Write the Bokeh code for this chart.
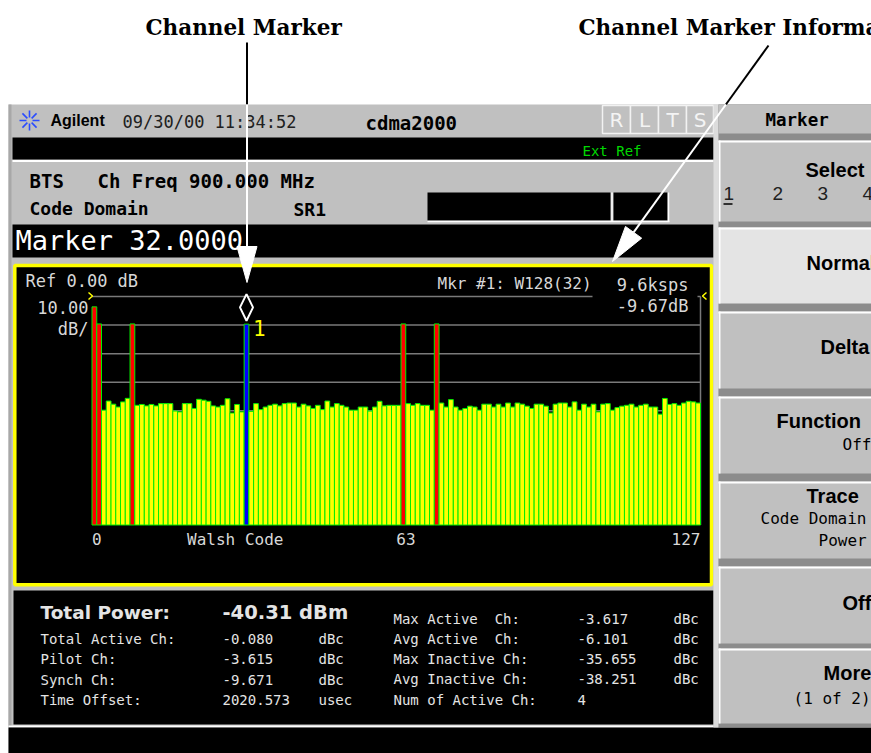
import math
from bokeh.plotting import figure
from bokeh.models import Range1d, ColumnDataSource
from bokeh.core.properties import value
from bokeh.embed import file_html
from bokeh.resources import INLINE

# ---------------- data ----------------
walsh_codes = list(range(128))
code_power_db = [
    -3.62, -9.6, -39.8, -36.6, -37.7, -38.7, -36.9, -35.66, -9.6, -38.1,
    -37.8, -38.3, -37.8, -38.3, -37.5, -37.5, -37.5, -40.1, -40.4, -37.5,
    -37.5, -39.2, -36.0, -36.3, -36.7, -38.3, -38.7, -38.1, -35.8, -40.8,
    -37.8, -40.4, -9.67, -40.2, -37.5, -39.6, -38.7, -38.1, -37.7, -38.3,
    -37.5, -37.3, -37.3, -38.7, -37.7, -38.3, -39.2, -38.1, -39.6, -36.6,
    -38.7, -37.5, -38.1, -38.7, -39.8, -39.8, -38.7, -38.7, -40.1, -38.7,
    -36.7, -38.3, -38.1, -38.1, -38.1, -9.6, -37.5, -38.1, -37.5, -38.1,
    -38.1, -39.8, -9.6, -37.3, -38.7, -36.1, -38.7, -39.8, -39.2, -38.4,
    -38.7, -39.8, -37.7, -37.7, -38.7, -37.7, -38.7, -37.3, -38.7, -37.3,
    -37.7, -38.4, -39.2, -37.7, -37.7, -38.4, -40.8, -37.7, -37.3, -37.3,
    -38.7, -36.9, -39.8, -37.7, -38.7, -37.7, -40.4, -37.7, -37.5, -39.8,
    -38.9, -38.4, -38.1, -37.7, -38.7, -38.1, -37.7, -38.7, -38.7, -41.2,
    -35.7, -37.8, -37.5, -38.1, -37.3, -36.7, -36.9, -37.3,
]
active_codes = [0, 1, 8, 65, 72]
marker_code = 32
marker_db = -9.67
marker_rate = "9.6ksps"
marker_label = "Mkr #1: W128(32)"
ref_level_db = 0.0
db_per_div = 10.0
n_divs = 8
x_tick_labels = ["0", "63", "127"]
x_axis_title = "Walsh Code"

total_power_text = "-40.31 dBm"
left_labels = ["Total Active Ch:", "Pilot Ch:", "Synch Ch:", "Time Offset:"]
left_values = ["-0.080", "-3.615", "-9.671", "2020.573"]
left_units = ["dBc", "dBc", "dBc", "usec"]
right_labels = ["Max Active\u00a0\u00a0Ch:", "Avg Active\u00a0\u00a0Ch:", "Max Inactive Ch:",
                "Avg Inactive Ch:", "Num of Active Ch:"]
right_values = ["-3.617", "-6.101", "-35.655", "-38.251", "4"]
right_units = ["dBc", "dBc", "dBc", "dBc", ""]

# ---------------- styles ----------------
GRAY = "#c0c0c0"
MONO = "DejaVu Sans Mono"
SANS = "DejaVu Sans"
KEYF = "Liberation Sans"
LIGHT = "#e4e4e4"

p = figure(width=871, height=753, x_range=Range1d(0, 871), y_range=Range1d(753, 0),
           output_backend="svg", toolbar_location=None, min_border=0,
           x_axis_location=None, y_axis_location=None,
           background_fill_color="white", border_fill_color="white",
           outline_line_color=None)
p.grid.visible = False


def box(l, r, t, b, color, line=None, lw=1):
    p.quad(left=[l], right=[r], top=[t], bottom=[b], fill_color=color,
           line_color=line, line_width=lw)


def seg(x0, y0, x1, y1, color, lw=1):
    p.segment(x0=[x0], y0=[y0], x1=[x1], y1=[y1], line_color=color, line_width=lw)


def txt(x, y, s, size, color="black", font=MONO, style="normal", align="left", baseline="middle"):
    p.text(x=[x], y=[y], text=[s], text_font=value(font), text_font_size=f"{size}px",
           text_font_style=style, text_color=color, text_align=align,
           text_baseline=baseline)


# screen background
box(8, 871, 104, 753, GRAY)
box(8, 11, 104, 727, "#a8a8a8")

# status line
for i in range(8):
    a = i * math.pi / 4
    seg(29 + 3 * math.cos(a), 120 + 3 * math.sin(a), 29 + 10 * math.cos(a), 120 + 10 * math.sin(a), "#2a4cff", 1.6)
txt(50, 120, "Agilent", 16, font="Liberation Sans", style="bold")
txt(122, 121, "09/30/00 11:34:52", 17, color="#202020")
txt(365, 122, "cdma2000", 19, style="bold")
rlts_edges = [602, 630, 658, 686, 713]
for i, ch in enumerate("RLTS"):
    box(rlts_edges[i], rlts_edges[i + 1], 105, 133, GRAY, line="#f2f2f2", lw=1.5)
    txt((rlts_edges[i] + rlts_edges[i + 1]) / 2, 119, ch, 20, color="#f4f4f4", font=SANS, align="center")

box(12, 713, 137, 159, "black")
seg(12, 160.5, 713, 160.5, "white", 2)
txt(582, 150, "Ext Ref", 14, color="#00d800")

txt(29, 180, "BTS", 19, style="bold")
txt(97, 180, "Ch Freq 900.000 MHz", 19, style="bold")
txt(29, 208, "Code Domain", 18, style="bold")
txt(293, 209, "SR1", 18, style="bold")
box(427, 610, 192, 220, "black")
box(613, 667, 192, 220, "black")
seg(427, 221, 669, 221, "white", 1.5)
seg(611.5, 192, 611.5, 221, "white", 1.5)
seg(668, 192, 668, 221, "white", 1.5)

# marker line
box(12, 713, 224, 257, "black")
txt(15, 240, f"Marker {marker_code:.4f}", 27, color="white")

# chart panel
p.quad(left=[14.3], right=[711], top=[265], bottom=[584.2], fill_color="black",
       line_color="#ffff00", line_width=3.5)

# ---- the code-domain bar chart through a sub-coordinate mapping ----
bottom_db = ref_level_db - n_divs * db_per_div
sub = p.subplot(x_source=Range1d(0, len(walsh_codes)), y_source=Range1d(bottom_db, ref_level_db),
                x_target=Range1d(91.5, 700), y_target=Range1d(524.5, 296))

grid_db = [ref_level_db - k * db_per_div for k in range(n_divs)]
sub.segment(x0=[0] * len(grid_db), x1=[len(walsh_codes)] * len(grid_db), y0=grid_db, y1=grid_db,
            line_color="#7a7a7a", line_width=1.5)
sub.segment(x0=[len(walsh_codes)], x1=[len(walsh_codes)], y0=[bottom_db], y1=[ref_level_db],
            line_color="#7a7a7a", line_width=1.5)

colors = []
for c in walsh_codes:
    if c == marker_code:
        colors.append("#0000ff")
    elif c in active_codes:
        colors.append("#ff0000")
    else:
        colors.append("#ffff00")
src = ColumnDataSource(dict(left=walsh_codes, right=[c + 1 for c in walsh_codes],
                            top=code_power_db, bottom=[bottom_db] * len(walsh_codes), color=colors))
sub.quad(left="left", right="right", top="top", bottom="bottom", fill_color="color",
         line_color="#00ee00", line_width=1, source=src)

# marker diamond and label
mx = marker_code + 0.5
gap_db, h_db, hw = 1.2, 9.3, 1.37
sub.patch(x=[mx, mx + hw, mx, mx - hw, mx],
          y=[marker_db + gap_db, marker_db + gap_db + h_db / 2, marker_db + gap_db + h_db,
             marker_db + gap_db + h_db / 2, marker_db + gap_db],
          fill_color="black", line_color="white", line_width=2)
sub.text(x=[marker_code + 1], y=[marker_db], text=["1"], text_font=value(MONO),
         text_font_size="21px", text_color="#ffff00", text_baseline="top", x_offset=4, y_offset=-4)

# x tick labels
tick_pos = [0, len(walsh_codes) / 2, len(walsh_codes)]
tick_align = ["left", "left", "right"]
for pos, lab, al in zip(tick_pos, x_tick_labels, tick_align):
    sub.text(x=[pos], y=[bottom_db - 5], text=[lab], text_font=value(MONO), text_font_size="16px",
             text_color="#d8d8d8", text_align=al, text_baseline="middle")
sub.text(x=[20], y=[bottom_db - 5], text=[x_axis_title], text_font=value(MONO), text_font_size="16px",
         text_color="#d8d8d8", text_align="left", text_baseline="middle")

# chart annotation texts
txt(25, 280, f"Ref {ref_level_db:.2f} dB", 17, color="#d8d8d8")
txt(88, 307, f"{db_per_div:.2f}", 17, color="#d8d8d8", align="right")
txt(88, 328, "dB/", 17, color="#d8d8d8", align="right")
p.line(x=[88, 92, 88], y=[292, 295.5, 299], line_color="#ffff00", line_width=1.5)
p.line(x=[706, 702, 706], y=[292, 295.5, 299], line_color="#ffff00", line_width=1.5)
box(592, 697, 270, 316, "black")
txt(437, 283, marker_label, 16, color="#d8d8d8")
txt(688, 284, marker_rate, 17, color="#d8d8d8", align="right")
txt(688, 305, f"{marker_db:.2f}dB", 17, color="#d8d8d8", align="right")

# data panel
box(13, 713, 590, 724, "black")
seg(8, 726, 713, 726, "white", 2)
box(8, 871, 727, 753, "black")
txt(40, 612, "Total Power:", 18.5, color=LIGHT, font=SANS, style="bold")
txt(222, 612, total_power_text, 19.5, color=LIGHT, font=SANS, style="bold")
left_rows = [638, 658, 679, 699]
for y, a, b, c in zip(left_rows, left_labels, left_values, left_units):
    txt(40, y, a, 14, color=LIGHT)
    txt(222, y, b, 14, color=LIGHT)
    txt(318, y, c, 14, color=LIGHT)
right_rows = [618, 638, 658, 678, 699]
for y, a, b, c in zip(right_rows, right_labels, right_values, right_units):
    txt(393, y, a, 14, color=LIGHT)
    txt(577, y, b, 14, color=LIGHT)
    txt(673, y, c, 14, color=LIGHT)

# softkey column
box(713, 718, 104, 727, "#dcdcdc")
box(718, 871, 104, 727, "#8c8c8c")
box(718, 871, 104, 133, GRAY)
txt(765, 119, "Marker", 17.5, style="bold")
keys = [(140, 221, GRAY), (227, 303, "#e4e4e4"), (311, 388, GRAY), (396, 473, GRAY),
        (481, 558, GRAY), (566, 643, GRAY), (648, 723, GRAY)]
for t, b, f in keys:
    box(718, 871, t, b, f)
    seg(718, t + 1, 871, t + 1, "white", 2)
    seg(719, t, 719, b, "white", 2)
txt(805, 169, "Select", 20, font=KEYF, style="bold")
for xx, s in zip([723, 772, 817, 862], ["1", "2", "3", "4"]):
    txt(xx, 193, s, 19, font=KEYF, color="#202020")
seg(723, 203.5, 732, 203.5, "black", 1.5)
txt(806, 262, "Normal", 20, font=KEYF, style="bold")
txt(820, 346, "Delta", 20, font=KEYF, style="bold")
txt(776, 420, "Function", 20, font=KEYF, style="bold")
txt(842, 444, "Off", 16)
txt(806, 495, "Trace", 20, font=KEYF, style="bold")
txt(760, 518, "Code Domain", 16)
txt(818, 540, "Power", 16)
txt(842, 602, "Off", 20, font=KEYF, style="bold")
txt(823, 672, "More", 20, font=KEYF, style="bold")
txt(793, 698, "(1 of 2)", 16)

# callout labels and arrows
txt(145, 27, "Channel Marker", 21.5, font="DejaVu Serif", style="bold")
txt(578, 27, "Channel Marker Information", 21.5, font="DejaVu Serif", style="bold")


def arrow(x0, y0, x1, y1, split_y):
    # black part over white page, white part over the screen
    t = (split_y - y0) / (y1 - y0)
    xs = x0 + t * (x1 - x0)
    seg(x0, y0, xs, split_y, "black", 2)
    L = math.hypot(x1 - x0, y1 - y0)
    ux, uy = (x1 - x0) / L, (y1 - y0) / L
    hl, hw2 = 36, 10
    bx, by = x1 - ux * hl, y1 - uy * hl
    seg(xs, split_y, bx, by, "white", 2)
    p.patch(x=[x1, bx - uy * hw2, bx + uy * hw2], y=[y1, by + ux * hw2, by - ux * hw2],
            fill_color="white", line_color="white", line_width=1)


arrow(246.5, 42, 246.5, 282, 104)
arrow(768, 45, 612, 261, 104)

open("out.html", "w").write(file_html(p, INLINE))
